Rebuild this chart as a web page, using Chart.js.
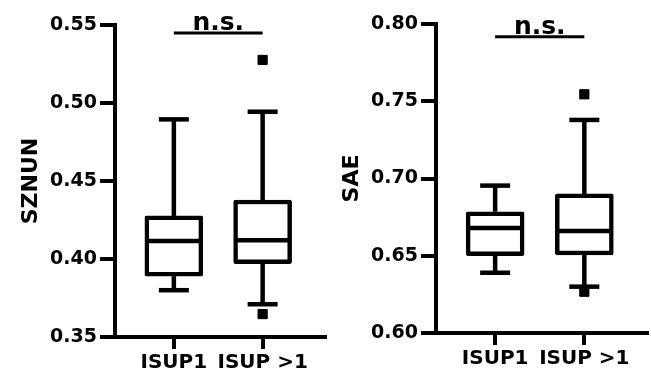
<!DOCTYPE html>
<html>
<head>
<meta charset="utf-8">
<script src="https://cdn.jsdelivr.net/npm/chart.js@4"></script>
<style>
  body { margin: 0; background: #fff; }
  #wrap { position: relative; width: 651px; height: 379px; overflow: hidden; }
  #c1 { position: absolute; left: 0; top: 0; }
  #c2 { position: absolute; left: 321px; top: 0; }
</style>
</head>
<body>
<div id="wrap">
  <canvas id="c1" width="332" height="379"></canvas>
  <canvas id="c2" width="333" height="379"></canvas>
</div>
<script>
// groups
var categories = ['ISUP1', 'ISUP >1'];

// SZNUN box stats
var sznunLow = [0.380, 0.371];
var sznunQ1 = [0.389, 0.397];
var sznunMedian = [0.4115, 0.412];
var sznunQ3 = [0.4276, 0.4378];
var sznunHigh = [0.4895, 0.4944];
var sznunOutliers = [0.5276, 0.3647];   // all in ISUP >1
var sznunTicks = [0.35, 0.40, 0.45, 0.50, 0.55];

// SAE box stats
var saeLow = [0.639, 0.630];
var saeQ1 = [0.650, 0.6505];
var saeMedian = [0.668, 0.666];
var saeQ3 = [0.6785, 0.690];
var saeHigh = [0.6954, 0.7379];
var saeOutliers = [0.7545, 0.6267];     // all in ISUP >1
var saeTicks = [0.60, 0.65, 0.70, 0.75, 0.80];

var FONT = '"DejaVu Sans", Arial, sans-serif';
var LW = 4.5;

// whiskers + medians + n.s. bracket, drawn through the chart scales
var boxParts = {
  id: 'boxParts',
  beforeDatasetsDraw: function(chart) {
    var o = chart.options.plugins.boxParts;
    var xs = chart.scales.x, ys = chart.scales.y, ctx = chart.ctx;
    ctx.save();
    ctx.strokeStyle = '#000';
    ctx.lineWidth = LW;
    ctx.lineCap = 'butt';
    for (var i = 0; i < categories.length; i++) {
      var x = xs.getPixelForValue(i);
      var segs = [[o.q3[i], o.high[i]], [o.q1[i], o.low[i]]];
      segs.forEach(function(s) {
        ctx.beginPath();
        ctx.moveTo(x, ys.getPixelForValue(s[0]));
        ctx.lineTo(x, ys.getPixelForValue(s[1]));
        ctx.stroke();
        ctx.beginPath();
        ctx.moveTo(x - 15, ys.getPixelForValue(s[1]));
        ctx.lineTo(x + 15, ys.getPixelForValue(s[1]));
        ctx.stroke();
      });
    }
    ctx.restore();
  },
  afterDatasetsDraw: function(chart) {
    var o = chart.options.plugins.boxParts;
    var xs = chart.scales.x, ys = chart.scales.y, ctx = chart.ctx;
    ctx.save();
    ctx.strokeStyle = '#000';
    ctx.lineWidth = LW;
    for (var i = 0; i < categories.length; i++) {
      var x = xs.getPixelForValue(i);
      var y = ys.getPixelForValue(o.med[i]);
      ctx.beginPath();
      ctx.moveTo(x - 27, y);
      ctx.lineTo(x + 27, y);
      ctx.stroke();
    }
    // n.s. bracket
    var x0 = xs.getPixelForValue(0), x1 = xs.getPixelForValue(1);
    var yb = chart.chartArea.top + o.sigOffset;
    ctx.lineWidth = 3;
    ctx.beginPath();
    ctx.moveTo(x0, yb);
    ctx.lineTo(x1, yb);
    ctx.stroke();
    ctx.fillStyle = '#000';
    ctx.font = 'bold 25px ' + FONT;
    ctx.textAlign = 'center';
    ctx.textBaseline = 'alphabetic';
    ctx.fillText('n.s.', (x0 + x1) / 2, yb - 3);
    ctx.restore();
  }
};

function makeChart(id, title, q1, med, q3, low, high, outliers, ticks, padRight, sigOffset) {
  var ctx = document.getElementById(id).getContext('2d');
  return new Chart(ctx, {
    type: 'bar',
    data: {
      datasets: [{
        data: categories.map(function(c, i) { return { x: i, y: [q1[i], q3[i]] }; }),
        backgroundColor: '#fff',
        borderColor: '#000',
        borderWidth: LW,
        borderSkipped: false,
        borderRadius: 2,
        barThickness: 58
      }, {
        type: 'scatter',
        data: outliers.map(function(v) { return { x: 1, y: v }; }),
        pointStyle: 'rect',
        pointRadius: 6.5,
        backgroundColor: '#000',
        borderColor: '#000',
        borderWidth: 1
      }]
    },
    options: {
      responsive: false,
      animation: false,
      layout: { padding: { left: 18, top: sigOffset > 10 ? 24 : 25, right: padRight, bottom: 0 } },
      plugins: {
        legend: { display: false },
        tooltip: { enabled: false },
        boxParts: { q1: q1, med: med, q3: q3, low: low, high: high, sigOffset: sigOffset }
      },
      scales: {
        x: {
          type: 'linear',
          offset: false,
          min: -0.663,
          max: 1.697,
          afterBuildTicks: function(s) { s.ticks = [{ value: 0 }, { value: 1 }]; },
          afterFit: function(s) { s.height = 379 - (id === 'c1' ? 337 : 333); },
          ticks: {
            callback: function(v) { return categories[v]; },
            color: '#000',
            font: { family: FONT, size: 20, weight: 'bold' },
            padding: 2,
            maxRotation: 0
          },
          grid: { offset: false, drawOnChartArea: false, tickLength: 12, lineWidth: 4, color: '#000' },
          border: { display: true, width: 4, color: '#000' }
        },
        y: {
          min: ticks[0],
          max: ticks[ticks.length - 1],
          afterBuildTicks: function(s) { s.ticks = ticks.map(function(v) { return { value: v }; }); },
          afterFit: function(s) { s.width = 115 - 18; },
          ticks: {
            callback: function(v) { return v.toFixed(2); },
            color: '#000',
            font: { family: FONT, size: 19, weight: 'bold' },
            padding: 3
          },
          title: {
            display: true,
            text: title,
            color: '#000',
            font: { family: FONT, size: 22, weight: 'bold' },
            padding: 0
          },
          grid: { drawOnChartArea: false, tickLength: 15, lineWidth: 4, color: '#000' },
          border: { display: true, width: 4, color: '#000' }
        }
      }
    },
    plugins: [boxParts]
  });
}

makeChart('c1', 'SZNUN', sznunQ1, sznunMedian, sznunQ3, sznunLow, sznunHigh, sznunOutliers, sznunTicks, 1, 8);
makeChart('c2', 'SAE', saeQ1, saeMedian, saeQ3, saeLow, saeHigh, saeOutliers, saeTicks, 5, 12.7);
</script>
</body>
</html>
